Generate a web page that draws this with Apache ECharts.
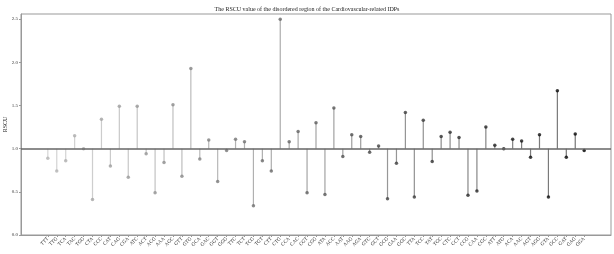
<!DOCTYPE html>
<html><head><meta charset="utf-8">
<script src="https://cdn.jsdelivr.net/npm/echarts@6/dist/echarts.min.js"></script>
<style>html,body{margin:0;padding:0;background:#fff}#c{width:614px;height:254px}</style>
</head><body><div id="c"></div>
<script>
const codons = ["TTT","TTG","TCA","TAC","TGG","CTA","CCC","CAT","CAG","CGA","ATC","ACT","ACG",
"AAA","AGC","GTT","GTG","GCA","GAC","GGT","GGG","TTC","TCT","TCG","TGT","CTT","CTG","CCA","CAC",
"CGT","CGG","ATA","ACC","AAT","AAG","AGA","GTC","GCT","GCG","GAA","GGC","TTA","TCC","TAT","TGC",
"CTC","CCT","CCG","CAA","CGC","ATT","ATG","ACA","AAC","AGT","AGG","GTA","GCC","GAT","GAG","GGA"];
const rscu = [0.89,0.74,0.86,1.15,1.00,0.41,1.34,0.80,1.49,0.67,1.49,0.94,0.49,
0.84,1.51,0.68,1.93,0.88,1.10,0.62,0.98,1.11,1.08,0.34,0.86,0.74,2.50,1.08,1.20,
0.49,1.30,0.47,1.47,0.91,1.16,1.14,0.96,1.03,0.42,0.83,1.42,0.44,1.33,0.85,1.14,
1.19,1.13,0.46,0.51,1.25,1.04,1.00,1.11,1.09,0.90,1.16,0.44,1.67,0.90,1.17,0.98];
const baseline = 1.0;
const yTicks = [0,0.5,1.0,1.5,2.0,2.5];

const idx = codons.map((_, i) => i);
const data = rscu.map((v, i) => [i, v]);
const font = "'Liberation Serif', 'DejaVu Serif', serif";

const chart = echarts.init(document.getElementById('c'));
chart.setOption({
  animation: false,
  title: {text: 'The RSCU value of the disordered region of the Cardiovascular-related IDPs',
    left: 'center', top: 1, textStyle: {fontFamily: font, fontSize: 6, fontWeight: 'normal', color: '#222'}},
  grid: {left: 21, right: 3, top: 14, bottom: 19, show: true, borderColor: '#999', borderWidth: 1,
    containLabel: false, outerBoundsMode: 'none'},
  visualMap: {show: false, type: 'continuous', dimension: 0, min: 0, max: 60,
    seriesIndex: [0, 1], inRange: {color: ['#b4b4b4', '#000000']}},
  xAxis: {type: 'value', min: -3, max: 63, splitLine: {show: false},
    axisLine: {onZero: false, lineStyle: {color: '#999'}},
    axisTick: {customValues: idx, length: 2, lineStyle: {color: '#999'}},
    axisLabel: {customValues: idx, rotate: 45, fontFamily: font, fontSize: 5, color: '#333', margin: 3,
      formatter: v => codons[v] || ''}},
  yAxis: {type: 'value', min: 0, max: 2.56, name: 'RSCU', nameLocation: 'middle', nameGap: 13,
    nameMoveOverlap: false, nameRotate: 90,
    nameTextStyle: {fontFamily: font, fontSize: 6, color: '#222'},
    splitLine: {show: false},
    axisLine: {show: true, onZero: false, lineStyle: {color: '#999'}},
    axisTick: {show: true, customValues: yTicks, length: 2, lineStyle: {color: '#999'}},
    axisLabel: {customValues: yTicks, fontFamily: font, fontSize: 5, color: '#333', margin: 3,
      formatter: v => v.toFixed(1)}},
  series: [
    {type: 'custom', data: data, z: 2,
      renderItem: (params, api) => {
        const p0 = api.coord([api.value(0), baseline]);
        const p1 = api.coord([api.value(0), api.value(1)]);
        return {type: 'line', shape: {x1: p0[0], y1: p0[1], x2: p1[0], y2: p1[1]},
          style: {stroke: api.visual('color'), lineWidth: 1.2, opacity: 0.55}};
      }},
    {type: 'scatter', data: data, symbolSize: 3.5, z: 4,
      markLine: {silent: true, symbol: 'none', label: {show: false},
        lineStyle: {color: '#666', width: 1.6, type: 'solid'},
        data: [{yAxis: baseline}]}}
  ]
});
</script></body></html>
